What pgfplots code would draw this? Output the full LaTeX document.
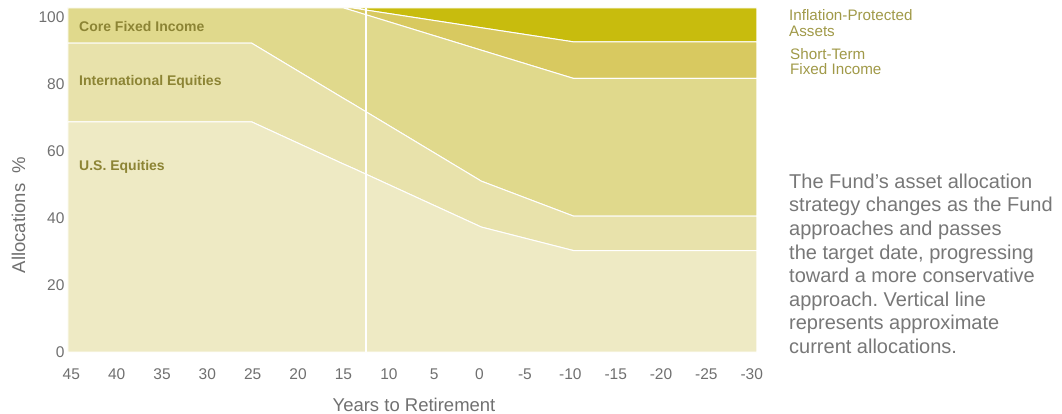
\documentclass[border=0pt]{standalone}
\usepackage{pgfplots}
\pgfplotsset{compat=1.18}
\usepackage{fontspec}
\setmainfont{Liberation Sans}

\definecolor{usC}{HTML}{EEEAC4}
\definecolor{intlC}{HTML}{E8E2AB}
\definecolor{coreC}{HTML}{E0D98C}
\definecolor{stC}{HTML}{D8C960}
\definecolor{inflC}{HTML}{C8BC0D}
\definecolor{olive}{HTML}{8C8434}
\definecolor{olivelt}{HTML}{A09948}
\definecolor{tickgray}{HTML}{707070}
\definecolor{textgray}{HTML}{777777}

\pgfplotsset{
    panel/.style={
        at={(68pt,61pt)}, anchor=south west,
        scale only axis,
        width=689pt, height=344pt,
        x dir=reverse,
        xmin=-30, xmax=45,
        ymin=0, ymax=102.7,
    },
}

\begin{document}
\frenchspacing
\begin{tikzpicture}
\path[use as bounding box] (0pt,0pt) rectangle (1062pt,413pt);

\begin{axis}[
    panel,
    % tick labels sit slightly inside the plotted span in the original
    xtick={44.64,39.70,34.76,29.83,24.89,19.95,15.01,10.07,5.14,0.20,-4.74,-9.68,-14.62,-19.55,-24.49,-29.43},
    xticklabels={45,40,35,30,25,20,15,10,5,0,-5,-10,-15,-20,-25,-30},
    ytick={0,20,40,60,80,100},
    axis line style={draw=none},
    tick style={draw=none},
    major tick length=0pt,
    ticklabel style={font=\fontsize{15.5}{18}\selectfont, text=tickgray},
    xticklabel style={yshift=-13pt},
    /pgf/number format/assume math mode=true,
    stack plots=y,
]
% U.S. Equities
\addplot[fill=usC, draw=white, line width=1pt] coordinates {(45,68.7) (25,68.7) (15,56.1) (14,54.9) (0,37.3) (-10,30.3) (-30,30.3)} \closedcycle;
% International Equities
\addplot[fill=intlC, draw=white, line width=1pt] coordinates {(45,23.5) (25,23.5) (15,19.6) (14,19.2) (0,13.7) (-10,10.3) (-30,10.3)} \closedcycle;
% Core Fixed Income
\addplot[fill=coreC, draw=white, line width=1pt] coordinates {(45,10.5) (25,10.5) (15,27.0) (14,27.8) (0,39.1) (-10,41.1) (-30,41.1)} \closedcycle;
% Short-Term Fixed Income
\addplot[fill=stC, draw=white, line width=1pt] coordinates {(45,0) (25,0) (15,0) (14,0.8) (0,6.7) (-10,10.9) (-30,10.9)} \closedcycle;
% Inflation-Protected Assets
\addplot[fill=inflC, draw=white, line width=1pt] coordinates {(45,0) (25,0) (15,0) (14,0) (0,5.9) (-10,10.1) (-30,10.1)} \closedcycle;
\end{axis}

% current allocations, on top of the areas
\begin{axis}[panel, hide axis]
\addplot[draw=white, line width=2pt] coordinates {(12.55,0) (12.55,102.7)};
\end{axis}

% labels inside the areas
\begin{scope}[every node/.style={inner sep=0pt, anchor=base west, text=olive, font=\fontsize{14}{16}\selectfont\bfseries}]
\node at (79pt,381.3pt) {Core Fixed Income};
\node at (79pt,327pt) {International Equities};
\node at (79pt,242.3pt) {U.S. Equities};
\end{scope}

% labels for the top layers
\begin{scope}[every node/.style={inner sep=0pt, anchor=base west, text=olivelt, font=\fontsize{15.2}{16}\selectfont}]
\node at (789pt,392.5pt) {Inflation-Protected};
\node at (789pt,376.5pt) {Assets};
\node at (790pt,353.5pt) {Short-Term};
\node at (790pt,338pt) {Fixed Income};
\end{scope}

% axis titles
\node[inner sep=0pt, anchor=base, text=tickgray, font=\fontsize{18.5}{20}\selectfont] at (414pt,2pt) {Years to Retirement};
\node[inner sep=0pt, anchor=base, rotate=90, text=tickgray, font=\fontsize{18.5}{20}\selectfont] at (25pt,198pt) {Allocations\ \ \%};

% note
\begin{scope}[every node/.style={inner sep=0pt, anchor=base west, text=textgray, font=\fontsize{20}{23.6}\selectfont}]
\node at (789pt,224.7pt) {The Fund’s asset allocation};
\node at (789pt,201.1pt) {strategy changes as the Fund};
\node at (789pt,177.5pt) {approaches and passes};
\node at (789pt,153.9pt) {the target date, progressing};
\node at (789pt,130.3pt) {toward a more conservative};
\node at (789pt,106.7pt) {approach. Vertical line};
\node at (789pt,83.1pt) {represents approximate};
\node at (789pt,59.5pt) {current allocations.};
\end{scope}
\end{tikzpicture}
\end{document}
